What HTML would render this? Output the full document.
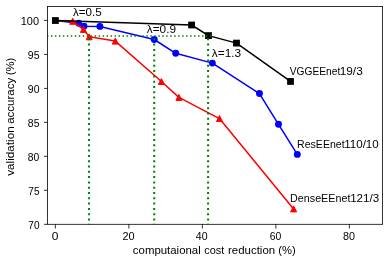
<!DOCTYPE html><html><head><meta charset="utf-8"><style>html,body{margin:0;padding:0;background:#fff}svg{display:block;will-change:transform}text{font-family:"Liberation Sans",sans-serif;font-size:10.3px;fill:#000}</style></head><body>
<svg width="389" height="262" viewBox="0 0 389 262">
<rect width="389" height="262" fill="#fff"/>
<defs><clipPath id="c"><rect x="47.5" y="6.5" width="335.1" height="217.8"/></clipPath></defs>
<g clip-path="url(#c)">
<polyline points="55.4,20.5 78.7,23.25 84.0,26.2 99.9,26.4 154.25,39.5 175.7,53.3 212.35,63.1 259.45,93.55 278.5,124.3 297.3,154.4" fill="none" stroke="#0000ff" stroke-width="1.5" stroke-linejoin="round"/>
<circle cx="78.7" cy="23.25" r="3.45" fill="#0000ff"/>
<circle cx="84.0" cy="26.2" r="3.45" fill="#0000ff"/>
<circle cx="99.9" cy="26.4" r="3.45" fill="#0000ff"/>
<circle cx="154.25" cy="39.5" r="3.45" fill="#0000ff"/>
<circle cx="175.7" cy="53.3" r="3.45" fill="#0000ff"/>
<circle cx="212.35" cy="63.1" r="3.45" fill="#0000ff"/>
<circle cx="259.45" cy="93.55" r="3.45" fill="#0000ff"/>
<circle cx="278.5" cy="124.3" r="3.45" fill="#0000ff"/>
<circle cx="297.3" cy="154.4" r="3.45" fill="#0000ff"/>
<polyline points="55.4,20.5 72.7,21.3 83.45,29.4 89.2,36.8 115.3,41.1 161.4,81.5 178.9,97.4 219.45,118.55 293.6,208.9" fill="none" stroke="#ff0000" stroke-width="1.5" stroke-linejoin="round"/>
<polygon points="72.7,18.3 69.7,24.3 75.7,24.3" fill="#ff0000" stroke="#ff0000" stroke-width="1" stroke-linejoin="miter"/>
<polygon points="83.45,26.4 80.45,32.4 86.45,32.4" fill="#ff0000" stroke="#ff0000" stroke-width="1" stroke-linejoin="miter"/>
<polygon points="89.2,33.8 86.2,39.8 92.2,39.8" fill="#ff0000" stroke="#ff0000" stroke-width="1" stroke-linejoin="miter"/>
<polygon points="115.3,38.1 112.3,44.1 118.3,44.1" fill="#ff0000" stroke="#ff0000" stroke-width="1" stroke-linejoin="miter"/>
<polygon points="161.4,78.5 158.4,84.5 164.4,84.5" fill="#ff0000" stroke="#ff0000" stroke-width="1" stroke-linejoin="miter"/>
<polygon points="178.9,94.4 175.9,100.4 181.9,100.4" fill="#ff0000" stroke="#ff0000" stroke-width="1" stroke-linejoin="miter"/>
<polygon points="219.45,115.55 216.45,121.55 222.45,121.55" fill="#ff0000" stroke="#ff0000" stroke-width="1" stroke-linejoin="miter"/>
<polygon points="293.6,205.9 290.6,211.9 296.6,211.9" fill="#ff0000" stroke="#ff0000" stroke-width="1" stroke-linejoin="miter"/>
<polyline points="55.4,20.5 191.6,25.0 208.5,35.6 236.5,43.1 290.5,81.45" fill="none" stroke="#000" stroke-width="1.5" stroke-linejoin="round"/>
<rect x="52.0" y="17.1" width="6.8" height="6.8" fill="#000"/>
<rect x="188.2" y="21.6" width="6.8" height="6.8" fill="#000"/>
<rect x="205.1" y="32.2" width="6.8" height="6.8" fill="#000"/>
<rect x="233.1" y="39.7" width="6.8" height="6.8" fill="#000"/>
<rect x="287.1" y="78.05" width="6.8" height="6.8" fill="#000"/>
<line x1="46.95" y1="36.05" x2="211.6" y2="36.05" stroke="#008000" stroke-width="1.5" stroke-dasharray="1.5 2.475"/>
<line x1="89.05" y1="225.8" x2="89.05" y2="36.5" stroke="#008000" stroke-width="2" stroke-dasharray="2 3.3"/>
<line x1="154.2" y1="225.8" x2="154.2" y2="36.5" stroke="#008000" stroke-width="2" stroke-dasharray="2 3.3"/>
<line x1="208.1" y1="225.8" x2="208.1" y2="36.5" stroke="#008000" stroke-width="2" stroke-dasharray="2 3.3"/>
</g>
<rect x="47.5" y="6.5" width="335.1" height="217.8" fill="none" stroke="#000" stroke-width="0.8"/>
<line x1="55.36" y1="224.3" x2="55.36" y2="228.5" stroke="#000" stroke-width="0.8"/>
<text x="51.89" y="239.55" textLength="6.65" lengthAdjust="spacingAndGlyphs" text-anchor="start" >0</text>
<line x1="128.86" y1="224.3" x2="128.86" y2="228.5" stroke="#000" stroke-width="0.8"/>
<text x="122.52" y="239.55" textLength="12.16" lengthAdjust="spacingAndGlyphs" text-anchor="start" >20</text>
<line x1="202.36" y1="224.3" x2="202.36" y2="228.5" stroke="#000" stroke-width="0.8"/>
<text x="195.82" y="239.55" textLength="11.72" lengthAdjust="spacingAndGlyphs" text-anchor="start" >40</text>
<line x1="275.86" y1="224.3" x2="275.86" y2="228.5" stroke="#000" stroke-width="0.8"/>
<text x="269.84" y="239.55" textLength="11.59" lengthAdjust="spacingAndGlyphs" text-anchor="start" >60</text>
<line x1="349.36" y1="224.3" x2="349.36" y2="228.5" stroke="#000" stroke-width="0.8"/>
<text x="342.9" y="239.55" textLength="12.01" lengthAdjust="spacingAndGlyphs" text-anchor="start" >80</text>
<line x1="47.5" y1="224.30" x2="44.0" y2="224.30" stroke="#000" stroke-width="0.8"/>
<text x="28.3" y="228.55" textLength="11.2" lengthAdjust="spacingAndGlyphs" text-anchor="start" >70</text>
<line x1="47.5" y1="190.33" x2="44.0" y2="190.33" stroke="#000" stroke-width="0.8"/>
<text x="28.3" y="194.58" textLength="11.2" lengthAdjust="spacingAndGlyphs" text-anchor="start" >75</text>
<line x1="47.5" y1="156.35" x2="44.0" y2="156.35" stroke="#000" stroke-width="0.8"/>
<text x="27.88" y="160.6" textLength="11.5" lengthAdjust="spacingAndGlyphs" text-anchor="start" >80</text>
<line x1="47.5" y1="122.38" x2="44.0" y2="122.38" stroke="#000" stroke-width="0.8"/>
<text x="27.85" y="126.63" textLength="11.6" lengthAdjust="spacingAndGlyphs" text-anchor="start" >85</text>
<line x1="47.5" y1="88.40" x2="44.0" y2="88.40" stroke="#000" stroke-width="0.8"/>
<text x="27.85" y="92.65" textLength="11.6" lengthAdjust="spacingAndGlyphs" text-anchor="start" >90</text>
<line x1="47.5" y1="54.43" x2="44.0" y2="54.43" stroke="#000" stroke-width="0.8"/>
<text x="27.79" y="58.68" textLength="11.78" lengthAdjust="spacingAndGlyphs" text-anchor="start" >95</text>
<line x1="47.5" y1="20.45" x2="44.0" y2="20.45" stroke="#000" stroke-width="0.8"/>
<text x="20.79" y="24.7" textLength="18.27" lengthAdjust="spacingAndGlyphs" text-anchor="start" >100</text>
<text x="132.84" y="253.75" textLength="67.92" lengthAdjust="spacingAndGlyphs" text-anchor="start" >computaional</text>
<text x="204.18" y="253.75" textLength="20.04" lengthAdjust="spacingAndGlyphs" text-anchor="start" >cost</text>
<text x="228.05" y="253.75" textLength="47.06" lengthAdjust="spacingAndGlyphs" text-anchor="start" >reduction</text>
<text x="278.33" y="253.75" textLength="17.44" lengthAdjust="spacingAndGlyphs" text-anchor="start" >(%)</text>
<text x="0" y="0" textLength="49.53" lengthAdjust="spacingAndGlyphs" text-anchor="start" transform="translate(13.9,175.85) rotate(-90)">validation</text>
<text x="0" y="0" textLength="46.09" lengthAdjust="spacingAndGlyphs" text-anchor="start" transform="translate(13.9,123.86) rotate(-90)">accuracy</text>
<text x="0" y="0" textLength="17.61" lengthAdjust="spacingAndGlyphs" text-anchor="start" transform="translate(13.9,75.36) rotate(-90)">(%)</text>
<text x="72.95" y="16.4" textLength="28.7" lengthAdjust="spacingAndGlyphs" text-anchor="start" >λ=0.5</text>
<text x="146.75" y="33.45" textLength="29.25" lengthAdjust="spacingAndGlyphs" text-anchor="start" >λ=0.9</text>
<text x="211.85" y="56.5" textLength="29.3" lengthAdjust="spacingAndGlyphs" text-anchor="start" >λ=1.3</text>
<text x="289.76" y="74.7" textLength="50.48" lengthAdjust="spacingAndGlyphs" text-anchor="start" >VGGEEnet</text>
<text x="339.66" y="74.7" textLength="23.09" lengthAdjust="spacingAndGlyphs" text-anchor="start" >19/3</text>
<text x="297.11" y="147.6" textLength="47.47" lengthAdjust="spacingAndGlyphs" text-anchor="start" >ResEEnet</text>
<text x="344.17" y="147.6" textLength="34.6" lengthAdjust="spacingAndGlyphs" text-anchor="start" >110/10</text>
<text x="290.08" y="201.6" textLength="60.31" lengthAdjust="spacingAndGlyphs" text-anchor="start" >DenseEEnet</text>
<text x="350.17" y="201.6" textLength="29.12" lengthAdjust="spacingAndGlyphs" text-anchor="start" >121/3</text>
</svg></body></html>
